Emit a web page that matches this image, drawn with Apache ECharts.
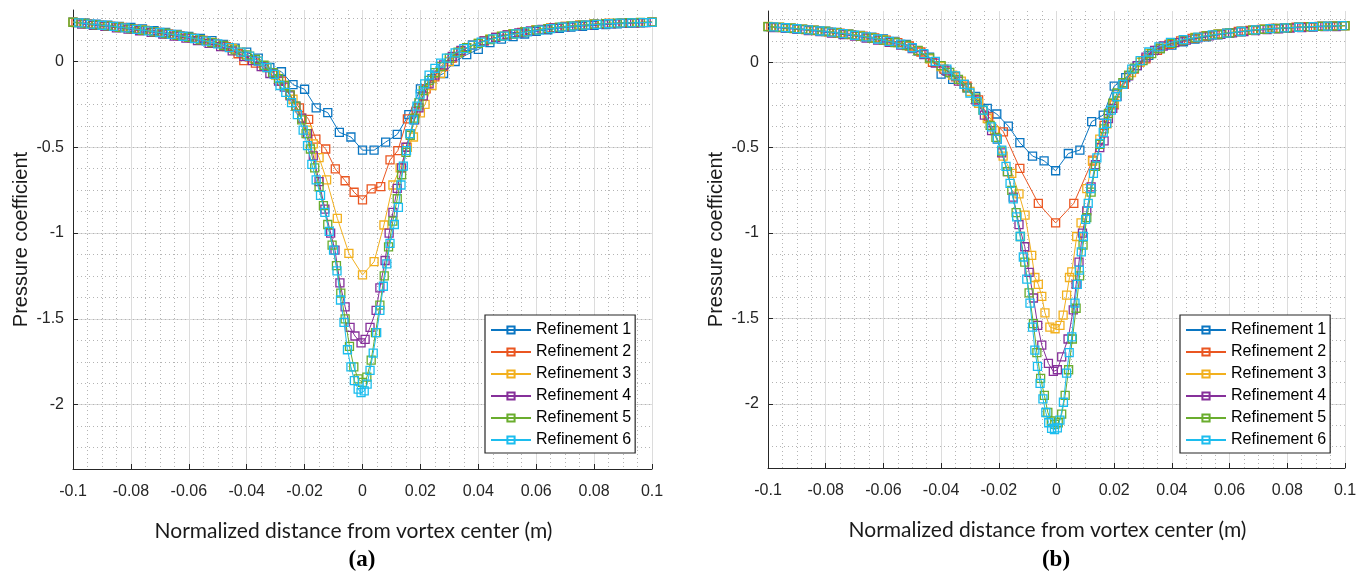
<!DOCTYPE html>
<html><head><meta charset="utf-8">
<script src="https://cdn.jsdelivr.net/npm/echarts@6/dist/echarts.min.js"></script>
<style>html,body{margin:0;padding:0;background:#fff}#c{width:1370px;height:582px}</style>
</head><body><div id="c"></div><script>
const names = ['Refinement 1','Refinement 2','Refinement 3','Refinement 4','Refinement 5','Refinement 6'];
const colors = ['#0a76c2','#ea5621','#f2b01e','#86309a','#6aad2e','#1cbdee'];
const yTicks = [0,-0.5,-1,-1.5,-2];
const xLabel = 'Normalized distance from vortex center (m)';
const yLabel = 'Pressure coefficient';
const panelLabels = ['a','b'];

// ---------- panel (a) ----------
const a1 = [[-0.1,0.23],[-0.096,0.225],[-0.092,0.218],[-0.088,0.212],[-0.084,0.205],[-0.08,0.198],[-0.076,0.19],[-0.072,0.18],[-0.068,0.17],[-0.064,0.158],[-0.06,0.146],[-0.056,0.135],[-0.052,0.122],[-0.048,0.1],[-0.044,0.078],[-0.04,0.055],[-0.036,0.02],[-0.032,-0.035],[-0.028,-0.06],[-0.024,-0.135],[-0.02,-0.162],[-0.016,-0.27],[-0.012,-0.298],[-0.008,-0.413],[-0.004,-0.44],[0,-0.517],[0.004,-0.517],[0.008,-0.47],[0.012,-0.425],[0.016,-0.31],[0.02,-0.16],[0.024,-0.1],[0.028,-0.07],[0.032,0.0],[0.036,0.04],[0.04,0.07],[0.044,0.11],[0.048,0.13],[0.052,0.145],[0.056,0.16],[0.06,0.175],[0.064,0.185],[0.068,0.193],[0.072,0.2],[0.076,0.205],[0.08,0.21],[0.084,0.215],[0.088,0.219],[0.092,0.222],[0.096,0.225],[0.1,0.228]];
const a2 = [[-0.099,0.227],[-0.095,0.22],[-0.091,0.213],[-0.087,0.206],[-0.083,0.198],[-0.079,0.19],[-0.075,0.181],[-0.071,0.171],[-0.067,0.161],[-0.063,0.15],[-0.059,0.137],[-0.055,0.123],[-0.051,0.106],[-0.047,0.087],[-0.043,0.045],[-0.041,0.005],[-0.037,-0.01],[-0.034,-0.03],[-0.031,-0.065],[-0.028,-0.115],[-0.025,-0.195],[-0.0218,-0.27],[-0.0186,-0.337],[-0.0161,-0.453],[-0.0127,-0.51],[-0.0094,-0.626],[-0.006,-0.695],[-0.0029,-0.762],[0,-0.807],[0.003,-0.743],[0.0063,-0.729],[0.0095,-0.574],[0.0122,-0.52],[0.0155,-0.335],[0.0185,-0.29],[0.022,-0.16],[0.025,-0.09],[0.028,-0.03],[0.031,0.02],[0.034,0.06],[0.038,0.095],[0.042,0.12],[0.046,0.14],[0.05,0.155],[0.055,0.17],[0.06,0.185],[0.065,0.196],[0.07,0.205],[0.075,0.212],[0.08,0.218],[0.085,0.222],[0.09,0.225],[0.095,0.227],[0.1,0.23]];
const a3 = [[-0.1,0.229],[-0.096,0.222],[-0.092,0.215],[-0.088,0.208],[-0.084,0.2],[-0.08,0.192],[-0.076,0.183],[-0.072,0.174],[-0.068,0.164],[-0.064,0.153],[-0.06,0.141],[-0.056,0.127],[-0.052,0.111],[-0.048,0.093],[-0.045,0.076],[-0.042,0.055],[-0.039,0.031],[-0.036,0.002],[-0.033,-0.035],[-0.03,-0.08],[-0.027,-0.14],[-0.024,-0.22],[-0.021,-0.33],[-0.019,-0.4],[-0.017,-0.48],[-0.015,-0.56],[-0.0124,-0.69],[-0.0087,-0.914],[-0.0047,-1.118],[0,-1.244],[0.004,-1.167],[0.0074,-0.953],[0.0105,-0.72],[0.013,-0.62],[0.0155,-0.5],[0.0176,-0.44],[0.02,-0.3],[0.0216,-0.25],[0.024,-0.14],[0.027,-0.07],[0.03,0.0],[0.033,0.05],[0.036,0.08],[0.04,0.105],[0.044,0.13],[0.048,0.148],[0.052,0.162],[0.056,0.174],[0.06,0.185],[0.065,0.196],[0.07,0.205],[0.075,0.212],[0.08,0.218],[0.085,0.222],[0.09,0.225],[0.095,0.227],[0.1,0.229]];
const a4 = [[-0.097,0.218],[-0.093,0.211],[-0.089,0.204],[-0.085,0.196],[-0.081,0.188],[-0.077,0.179],[-0.073,0.17],[-0.069,0.16],[-0.065,0.148],[-0.061,0.136],[-0.057,0.122],[-0.053,0.105],[-0.049,0.086],[-0.045,0.062],[-0.041,0.03],[-0.038,0.005],[-0.035,-0.03],[-0.032,-0.07],[-0.029,-0.115],[-0.027,-0.15],[-0.025,-0.2],[-0.023,-0.26],[-0.021,-0.33],[-0.019,-0.42],[-0.017,-0.55],[-0.015,-0.7],[-0.013,-0.86],[-0.011,-1.0],[-0.0095,-1.1],[-0.0078,-1.29],[-0.006,-1.43],[-0.0043,-1.55],[-0.0026,-1.6],[-0.0005,-1.64],[0.0009,-1.62],[0.0026,-1.55],[0.0047,-1.45],[0.006,-1.32],[0.0078,-1.16],[0.0092,-1.0],[0.0105,-0.88],[0.012,-0.74],[0.0135,-0.62],[0.015,-0.5],[0.0165,-0.42],[0.018,-0.34],[0.0195,-0.27],[0.021,-0.2],[0.023,-0.13],[0.025,-0.08],[0.028,-0.02],[0.031,0.03],[0.034,0.065],[0.038,0.095],[0.042,0.12],[0.046,0.14],[0.05,0.155],[0.054,0.167],[0.058,0.178],[0.062,0.187],[0.066,0.195],[0.07,0.202],[0.074,0.207],[0.078,0.212],[0.082,0.216],[0.086,0.219],[0.09,0.222],[0.094,0.224],[0.098,0.226]];
const a5 = [[-0.1,0.228],[-0.096,0.221],[-0.092,0.214],[-0.088,0.207],[-0.084,0.199],[-0.08,0.191],[-0.076,0.182],[-0.072,0.173],[-0.068,0.163],[-0.064,0.152],[-0.06,0.14],[-0.056,0.126],[-0.052,0.11],[-0.048,0.092],[-0.044,0.068],[-0.04,0.039],[-0.037,0.012],[-0.034,-0.022],[-0.031,-0.065],[-0.029,-0.1],[-0.027,-0.14],[-0.025,-0.195],[-0.023,-0.26],[-0.021,-0.34],[-0.0195,-0.42],[-0.018,-0.51],[-0.0165,-0.62],[-0.015,-0.73],[-0.0135,-0.84],[-0.012,-0.95],[-0.0105,-1.07],[-0.009,-1.19],[-0.0075,-1.35],[-0.006,-1.5],[-0.0045,-1.66],[-0.003,-1.78],[-0.0015,-1.85],[0,-1.87],[0.0015,-1.84],[0.003,-1.74],[0.0045,-1.58],[0.006,-1.42],[0.0075,-1.25],[0.009,-1.08],[0.0105,-0.93],[0.012,-0.8],[0.0135,-0.66],[0.015,-0.53],[0.0165,-0.43],[0.018,-0.33],[0.0195,-0.24],[0.021,-0.17],[0.023,-0.11],[0.025,-0.065],[0.027,-0.03],[0.03,0.02],[0.033,0.055],[0.036,0.08],[0.04,0.105],[0.044,0.128],[0.048,0.146],[0.052,0.16],[0.056,0.172],[0.06,0.183],[0.064,0.192],[0.068,0.2],[0.072,0.207],[0.076,0.212],[0.08,0.217],[0.084,0.221],[0.088,0.224],[0.092,0.226],[0.096,0.228],[0.1,0.229]];
const a6 = [[-0.098,0.225],[-0.094,0.218],[-0.09,0.211],[-0.086,0.204],[-0.082,0.196],[-0.078,0.187],[-0.074,0.178],[-0.07,0.169],[-0.066,0.158],[-0.062,0.147],[-0.058,0.134],[-0.054,0.119],[-0.05,0.102],[-0.046,0.081],[-0.042,0.055],[-0.039,0.031],[-0.036,0.002],[-0.033,-0.035],[-0.0305,-0.075],[-0.0285,-0.14],[-0.0265,-0.18],[-0.0245,-0.24],[-0.0225,-0.31],[-0.0205,-0.4],[-0.019,-0.49],[-0.0175,-0.6],[-0.016,-0.69],[-0.0145,-0.78],[-0.013,-0.88],[-0.0115,-0.99],[-0.01,-1.1],[-0.0088,-1.22],[-0.0076,-1.39],[-0.0064,-1.52],[-0.0052,-1.68],[-0.004,-1.78],[-0.0028,-1.86],[-0.0015,-1.91],[-0.0005,-1.93],[0.0006,-1.92],[0.0016,-1.88],[0.0026,-1.8],[0.0037,-1.7],[0.0049,-1.58],[0.006,-1.45],[0.0072,-1.31],[0.0084,-1.18],[0.0095,-1.06],[0.011,-0.95],[0.0124,-0.85],[0.0133,-0.72],[0.0141,-0.61],[0.0152,-0.52],[0.0164,-0.42],[0.0176,-0.34],[0.0188,-0.26],[0.0199,-0.19],[0.0215,-0.13],[0.023,-0.08],[0.025,-0.04],[0.027,-0.01],[0.029,0.02],[0.032,0.05],[0.035,0.075],[0.038,0.095],[0.041,0.113],[0.045,0.132],[0.049,0.148],[0.053,0.161],[0.057,0.173],[0.061,0.183],[0.065,0.192],[0.069,0.2],[0.073,0.206],[0.077,0.212],[0.081,0.216],[0.085,0.22],[0.089,0.223],[0.093,0.225],[0.097,0.227],[0.1,0.228]];

// ---------- panel (b) ----------
const b1 = [[-0.1,0.208],[-0.096,0.204],[-0.092,0.199],[-0.088,0.194],[-0.084,0.188],[-0.08,0.182],[-0.076,0.175],[-0.072,0.166],[-0.068,0.157],[-0.064,0.147],[-0.06,0.136],[-0.056,0.122],[-0.052,0.104],[-0.048,0.065],[-0.044,0.03],[-0.04,-0.07],[-0.036,-0.1],[-0.032,-0.13],[-0.028,-0.2],[-0.024,-0.27],[-0.0207,-0.303],[-0.0167,-0.374],[-0.0127,-0.471],[-0.0083,-0.549],[-0.0043,-0.577],[-0.0003,-0.635],[0.0041,-0.534],[0.0081,-0.514],[0.0122,-0.348],[0.0162,-0.309],[0.02,-0.14],[0.024,-0.09],[0.028,-0.02],[0.032,0.04],[0.036,0.08],[0.04,0.1],[0.044,0.12],[0.048,0.135],[0.052,0.148],[0.056,0.16],[0.06,0.17],[0.064,0.18],[0.068,0.188],[0.072,0.193],[0.076,0.198],[0.08,0.202],[0.084,0.205],[0.088,0.208],[0.092,0.211],[0.096,0.213],[0.1,0.214]];
const b2 = [[-0.099,0.207],[-0.095,0.203],[-0.091,0.197],[-0.087,0.191],[-0.083,0.185],[-0.079,0.178],[-0.075,0.171],[-0.071,0.162],[-0.067,0.153],[-0.063,0.142],[-0.059,0.13],[-0.055,0.115],[-0.051,0.095],[-0.047,0.06],[-0.043,0.0],[-0.039,-0.04],[-0.035,-0.085],[-0.031,-0.14],[-0.027,-0.22],[-0.0235,-0.32],[-0.0184,-0.407],[-0.0127,-0.621],[-0.0063,-0.826],[-0.0003,-0.94],[0.006,-0.826],[0.0125,-0.573],[0.0165,-0.37],[0.02,-0.25],[0.0235,-0.13],[0.027,-0.04],[0.031,0.02],[0.035,0.07],[0.039,0.105],[0.043,0.125],[0.047,0.14],[0.051,0.152],[0.055,0.162],[0.059,0.171],[0.063,0.18],[0.067,0.187],[0.071,0.193],[0.075,0.198],[0.079,0.202],[0.083,0.205],[0.087,0.208],[0.091,0.21],[0.095,0.212],[0.099,0.214]];
const b3 = [[-0.1,0.21],[-0.096,0.205],[-0.092,0.2],[-0.088,0.194],[-0.084,0.188],[-0.08,0.181],[-0.076,0.174],[-0.072,0.165],[-0.068,0.155],[-0.064,0.144],[-0.06,0.132],[-0.056,0.117],[-0.052,0.099],[-0.048,0.068],[-0.044,0.02],[-0.04,-0.025],[-0.036,-0.075],[-0.033,-0.11],[-0.03,-0.17],[-0.027,-0.24],[-0.024,-0.33],[-0.0215,-0.4],[-0.0185,-0.55],[-0.0155,-0.65],[-0.013,-0.77],[-0.0109,-0.895],[-0.0086,-1.13],[-0.0075,-1.26],[-0.0063,-1.3],[-0.0051,-1.37],[-0.004,-1.467],[-0.0023,-1.55],[-0.0005,-1.56],[0.0012,-1.54],[0.0023,-1.48],[0.0035,-1.363],[0.0045,-1.26],[0.0053,-1.227],[0.007,-1.02],[0.0085,-0.94],[0.0105,-0.74],[0.0125,-0.58],[0.015,-0.45],[0.0175,-0.36],[0.02,-0.24],[0.023,-0.13],[0.026,-0.06],[0.029,0.0],[0.032,0.05],[0.036,0.09],[0.04,0.115],[0.044,0.132],[0.048,0.145],[0.052,0.156],[0.056,0.166],[0.06,0.174],[0.064,0.181],[0.068,0.188],[0.072,0.194],[0.076,0.198],[0.08,0.202],[0.084,0.205],[0.088,0.208],[0.092,0.21],[0.096,0.212],[0.1,0.213]];
const b4 = [[-0.098,0.203],[-0.094,0.198],[-0.09,0.192],[-0.086,0.186],[-0.082,0.179],[-0.078,0.171],[-0.074,0.162],[-0.07,0.153],[-0.066,0.142],[-0.062,0.13],[-0.058,0.116],[-0.054,0.1],[-0.05,0.08],[-0.046,0.045],[-0.042,-0.005],[-0.038,-0.05],[-0.034,-0.11],[-0.031,-0.15],[-0.028,-0.22],[-0.025,-0.31],[-0.0225,-0.4],[-0.0205,-0.45],[-0.019,-0.53],[-0.017,-0.64],[-0.015,-0.79],[-0.013,-0.95],[-0.011,-1.08],[-0.0095,-1.23],[-0.008,-1.38],[-0.0065,-1.54],[-0.0051,-1.656],[-0.0028,-1.763],[-0.0011,-1.81],[0.0003,-1.8],[0.0018,-1.724],[0.004,-1.62],[0.0058,-1.45],[0.0068,-1.3],[0.0078,-1.17],[0.009,-1.0],[0.0105,-0.87],[0.012,-0.73],[0.0135,-0.6],[0.015,-0.5],[0.0165,-0.46],[0.018,-0.33],[0.0195,-0.27],[0.021,-0.2],[0.023,-0.13],[0.025,-0.08],[0.028,-0.02],[0.031,0.03],[0.034,0.07],[0.037,0.095],[0.041,0.115],[0.045,0.13],[0.049,0.143],[0.053,0.154],[0.057,0.163],[0.061,0.172],[0.065,0.18],[0.069,0.186],[0.073,0.191],[0.077,0.196],[0.081,0.2],[0.085,0.203],[0.089,0.206],[0.093,0.208],[0.097,0.209]];
const b5 = [[-0.1,0.209],[-0.096,0.204],[-0.092,0.199],[-0.088,0.193],[-0.084,0.187],[-0.08,0.18],[-0.076,0.172],[-0.072,0.163],[-0.068,0.153],[-0.064,0.142],[-0.06,0.13],[-0.056,0.115],[-0.052,0.098],[-0.048,0.07],[-0.044,0.025],[-0.04,-0.02],[-0.037,-0.06],[-0.034,-0.1],[-0.031,-0.15],[-0.028,-0.21],[-0.0255,-0.28],[-0.023,-0.37],[-0.021,-0.44],[-0.019,-0.52],[-0.017,-0.64],[-0.0155,-0.75],[-0.014,-0.88],[-0.0125,-1.02],[-0.011,-1.17],[-0.0095,-1.35],[-0.008,-1.53],[-0.0068,-1.7],[-0.0055,-1.85],[-0.0042,-1.95],[-0.003,-2.05],[-0.0018,-2.1],[-0.0006,-2.12],[0.0006,-2.11],[0.0018,-2.06],[0.003,-1.95],[0.0042,-1.8],[0.0055,-1.62],[0.0068,-1.44],[0.008,-1.25],[0.0092,-1.07],[0.0105,-0.91],[0.012,-0.76],[0.0135,-0.61],[0.015,-0.48],[0.0165,-0.39],[0.018,-0.3],[0.0195,-0.24],[0.021,-0.18],[0.023,-0.12],[0.025,-0.075],[0.027,-0.035],[0.03,0.01],[0.033,0.05],[0.036,0.08],[0.04,0.11],[0.044,0.13],[0.048,0.143],[0.052,0.154],[0.056,0.164],[0.06,0.172],[0.064,0.18],[0.068,0.187],[0.072,0.193],[0.076,0.197],[0.08,0.201],[0.084,0.205],[0.088,0.208],[0.092,0.21],[0.096,0.212],[0.1,0.214]];
const b6 = [[-0.098,0.207],[-0.094,0.202],[-0.09,0.196],[-0.086,0.19],[-0.082,0.183],[-0.078,0.176],[-0.074,0.168],[-0.07,0.158],[-0.066,0.148],[-0.062,0.136],[-0.058,0.122],[-0.054,0.106],[-0.05,0.085],[-0.046,0.05],[-0.042,0.005],[-0.038,-0.04],[-0.035,-0.08],[-0.032,-0.13],[-0.03,-0.18],[-0.0275,-0.23],[-0.0254,-0.28],[-0.0225,-0.378],[-0.0205,-0.45],[-0.019,-0.514],[-0.0175,-0.61],[-0.0161,-0.709],[-0.015,-0.8],[-0.0138,-0.905],[-0.0126,-1.02],[-0.0115,-1.14],[-0.0103,-1.27],[-0.0092,-1.41],[-0.0083,-1.55],[-0.0075,-1.685],[-0.0066,-1.78],[-0.0057,-1.88],[-0.0047,-1.97],[-0.0037,-2.05],[-0.0027,-2.11],[-0.0017,-2.143],[-0.0007,-2.15],[0.0003,-2.14],[0.0012,-2.095],[0.0024,-1.99],[0.0035,-1.82],[0.0044,-1.7],[0.0053,-1.607],[0.0064,-1.41],[0.0072,-1.3],[0.0079,-1.217],[0.0086,-1.11],[0.0093,-1.02],[0.0101,-0.92],[0.011,-0.826],[0.0119,-0.74],[0.0128,-0.65],[0.014,-0.56],[0.0151,-0.475],[0.0162,-0.41],[0.0174,-0.358],[0.019,-0.28],[0.0209,-0.202],[0.023,-0.13],[0.0261,-0.04],[0.029,0.01],[0.032,0.06],[0.0355,0.09],[0.0395,0.116],[0.044,0.133],[0.049,0.147],[0.054,0.16],[0.059,0.17],[0.064,0.18],[0.069,0.19],[0.074,0.197],[0.079,0.201],[0.084,0.205],[0.089,0.209],[0.094,0.212],[0.099,0.214]];

const panelA = [a1,a2,a3,a4,a5,a6];
const panelB = [b1,b2,b3,b4,b5,b6];

const FONT = 'Liberation Sans';
const grids = [
  {left:73, top:10, width:579, height:459},
  {left:768, top:11, width:577, height:457}
];
function xAxisFor(g){
  return {type:'value', gridIndex:g, min:-0.1, max:0.1, interval:0.02,
    axisLine:{show:true, onZero:false, lineStyle:{color:'#262626', width:1}},
    axisTick:{show:true, inside:true, length:5, lineStyle:{color:'#262626'}},
    axisLabel:{margin:15, fontSize:16, fontFamily:FONT, color:'#262626'},
    splitLine:{show:true, lineStyle:{color:'#dcdcdc', width:1}},
    minorTick:{show:false, splitNumber:4},
    minorSplitLine:{show:true, lineStyle:{color:'#b4b4b4', width:1, type:[1,3]}},
    name:xLabel, nameLocation:'middle', nameGap:52,
    nameTextStyle:{fontFamily:'Lato', fontSize:21, color:'#1a1a1a', padding:[0,18,0,0]}};
}
function yMajorFor(g){
  return {type:'value', gridIndex:g, position:'left', min:-2.375, max:0.3,
    axisLine:{show:true, onZero:false, lineStyle:{color:'#262626', width:1}},
    axisTick:{show:true, inside:true, length:5, customValues:yTicks, lineStyle:{color:'#262626'}},
    axisLabel:{customValues:yTicks, margin:9, fontSize:16, fontFamily:FONT, color:'#262626'},
    splitLine:{show:true, lineStyle:{color:'#dcdcdc', width:1}},
    name:yLabel, nameLocation:'middle', nameGap:42,
    nameTextStyle:{fontFamily:FONT, fontSize:20, color:'#1a1a1a'}};
}
function yMinorFor(g){
  return {type:'value', gridIndex:g, position:'left', min:-2.375, max:0.3, interval:0.125,
    axisLine:{show:false}, axisTick:{show:false}, axisLabel:{show:false},
    splitLine:{show:true, showMinLine:false, showMaxLine:false,
      lineStyle:{color:'#b4b4b4', width:1, type:[1,3]}}};
}
const series = [];
[panelA, panelB].forEach((panel, p) => {
  panel.forEach((data, i) => {
    series.push({type:'line', name:names[i], xAxisIndex:p, yAxisIndex:p*2, data:data,
      symbol:'rect', symbolSize:8, showSymbol:true, showAllSymbol:true,
      lineStyle:{color:colors[i], width:1},
      itemStyle:{color:'rgba(0,0,0,0)', borderColor:colors[i], borderWidth:1.3},
      emphasis:{disabled:true}, z:2+i});
  });
});
function legendFor(left){
  return {data:names, left:left, top:315, orient:'vertical', itemWidth:40, itemHeight:9, itemGap:6,
    padding:[7,4,5,5], borderColor:'#262626', borderWidth:1.2, backgroundColor:'#fff',
    selectedMode:false, textStyle:{fontSize:16, fontFamily:FONT, color:'#000', lineHeight:16}};
}
const titleRich = {p:{fontFamily:'Liberation Serif', fontSize:23, color:'#000'},
                   b:{fontFamily:'Liberation Serif', fontSize:23, fontWeight:'bold', color:'#000'}};
const chart = echarts.init(document.getElementById('c'), null, {renderer:'canvas'});
chart.setOption({
  animation:false, backgroundColor:'#fff',
  title: panelLabels.map((t, k) => ({text:'{p|(}{b|' + t + '}{p|)}', left: k === 0 ? 362 : 1056, top:549,
    textAlign:'center', padding:0, textStyle:{rich:titleRich}})),
  grid: grids,
  xAxis: [xAxisFor(0), xAxisFor(1)],
  yAxis: [yMajorFor(0), yMinorFor(0), yMajorFor(1), yMinorFor(1)],
  legend: [legendFor(485), legendFor(1180)],
  series: series
});
</script></body></html>
